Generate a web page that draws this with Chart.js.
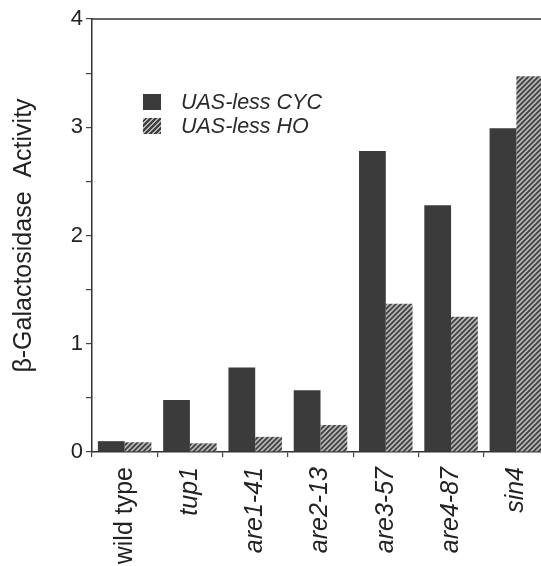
<!DOCTYPE html>
<html>
<head>
<meta charset="utf-8">
<script src="https://cdn.jsdelivr.net/npm/chart.js@4"></script>
<style>
  html, body { margin: 0; padding: 0; background: #fff; overflow: hidden; }
  .wrap { position: absolute; left: 0; top: 0; width: 560px; height: 566px; }
  .legend { position: absolute; left: 143px; top: 90px; font-family: "Liberation Sans", Arial, sans-serif; font-style: italic; font-size: 21.5px; color: #2a2a2a; line-height: 24px; }
  .legend div { display: flex; align-items: center; }
  .legend span.box { display: inline-block; width: 18px; height: 16px; margin-right: 20px; }
</style>
</head>
<body>
<div class="wrap">
  <canvas id="myChart" width="560" height="566"></canvas>
  <div class="legend" id="legend"></div>
</div>
<script>
const categories = ["wild type", "tup1", "are1-41", "are2-13", "are3-57", "are4-87", "sin4"];
const seriesNames = ["UAS-less CYC", "UAS-less HO"];
const cycValues = [0.1, 0.48, 0.78, 0.57, 2.78, 2.28, 2.99];
const hoValues = [0.09, 0.08, 0.14, 0.25, 1.37, 1.25, 3.47];
const yTicks = [0, 1, 2, 3, 4];

const dark = "#3b3b3b";

// diagonal hatch pattern for the HO bars
const makeHatch = () => {
  const c = document.createElement("canvas");
  c.width = 5;
  c.height = 5;
  const g = c.getContext("2d");
  g.fillStyle = "#b8b8b8";
  g.fillRect(0, 0, 5, 5);
  g.strokeStyle = "#404040";
  g.lineWidth = 1.8;
  g.beginPath();
  g.moveTo(-1, 6); g.lineTo(6, -1);
  g.moveTo(-1, 1); g.lineTo(1, -1);
  g.moveTo(4, 6); g.lineTo(6, 4);
  g.stroke();
  return g.createPattern(c, "repeat");
};
const ctx = document.getElementById("myChart");
const hatch = makeHatch();

document.getElementById("legend").innerHTML = `
  <div><span class="box" style="background:${dark}"></span>${seriesNames[0]}</div>
  <div><span class="box" style="background:repeating-linear-gradient(-45deg,#404040 0 1.6px,#b8b8b8 1.6px 3.5px)"></span>${seriesNames[1]}</div>`;

const topBorder = {
  id: "topBorder",
  afterDraw(chart) {
    const { ctx, chartArea } = chart;
    ctx.save();
    ctx.strokeStyle = "#333";
    ctx.lineWidth = 1.5;
    ctx.beginPath();
    ctx.moveTo(chartArea.left, chartArea.top);
    ctx.lineTo(chartArea.right, chartArea.top);
    ctx.stroke();
    ctx.restore();
  },
};

new Chart(ctx, {
  type: "bar",
  data: {
    labels: categories,
    datasets: [
      { label: seriesNames[0], data: cycValues, backgroundColor: dark, borderWidth: 0 },
      { label: seriesNames[1], data: hoValues, backgroundColor: hatch, borderWidth: 0 },
    ],
  },
  options: {
    responsive: false,
    animation: false,
    layout: { padding: { top: 19, right: 11, left: 0, bottom: 0 } },
    datasets: { bar: { categoryPercentage: 0.82, barPercentage: 1.0 } },
    scales: {
      x: {
        grid: { offset: true, drawOnChartArea: false, tickLength: 5, color: "#444", lineWidth: 1.2 },
        border: { color: "#333", width: 1.5 },
        ticks: {
          minRotation: 90,
          maxRotation: 90,
          color: "#222",
          padding: 10,
          font: (c) => ({
            family: "'Liberation Sans', Arial, sans-serif",
            size: 25,
            style: c.index === 0 ? "normal" : "italic",
          }),
        },
        afterFit: (scale) => { scale.height = 114; },
      },
      y: {
        min: 0,
        max: 4,
        afterBuildTicks: (scale) => {
          const t = [];
          yTicks.forEach((v, i) => {
            t.push({ value: v });
            if (i < yTicks.length - 1) t.push({ value: v + 0.5 });
          });
          scale.ticks = t;
        },
        grid: { drawOnChartArea: false, tickLength: 6, color: "#444", lineWidth: 1.2 },
        border: { color: "#333", width: 1.5 },
        ticks: {
          color: "#222",
          padding: 3,
          font: { family: "'Liberation Sans', Arial, sans-serif", size: 22 },
          callback: (v) => (yTicks.includes(v) ? v : ""),
        },
        title: {
          display: true,
          text: "β-Galactosidase  Activity",
          color: "#222",
          font: { family: "'Liberation Sans', Arial, sans-serif", size: 25 },
          padding: { top: 9, bottom: 0 },
        },
        afterFit: (scale) => { scale.width = 92; },
      },
    },
    plugins: {
      legend: { display: false },
      tooltip: { enabled: false },
    },
  },
  plugins: [topBorder],
});
</script>
</body>
</html>
